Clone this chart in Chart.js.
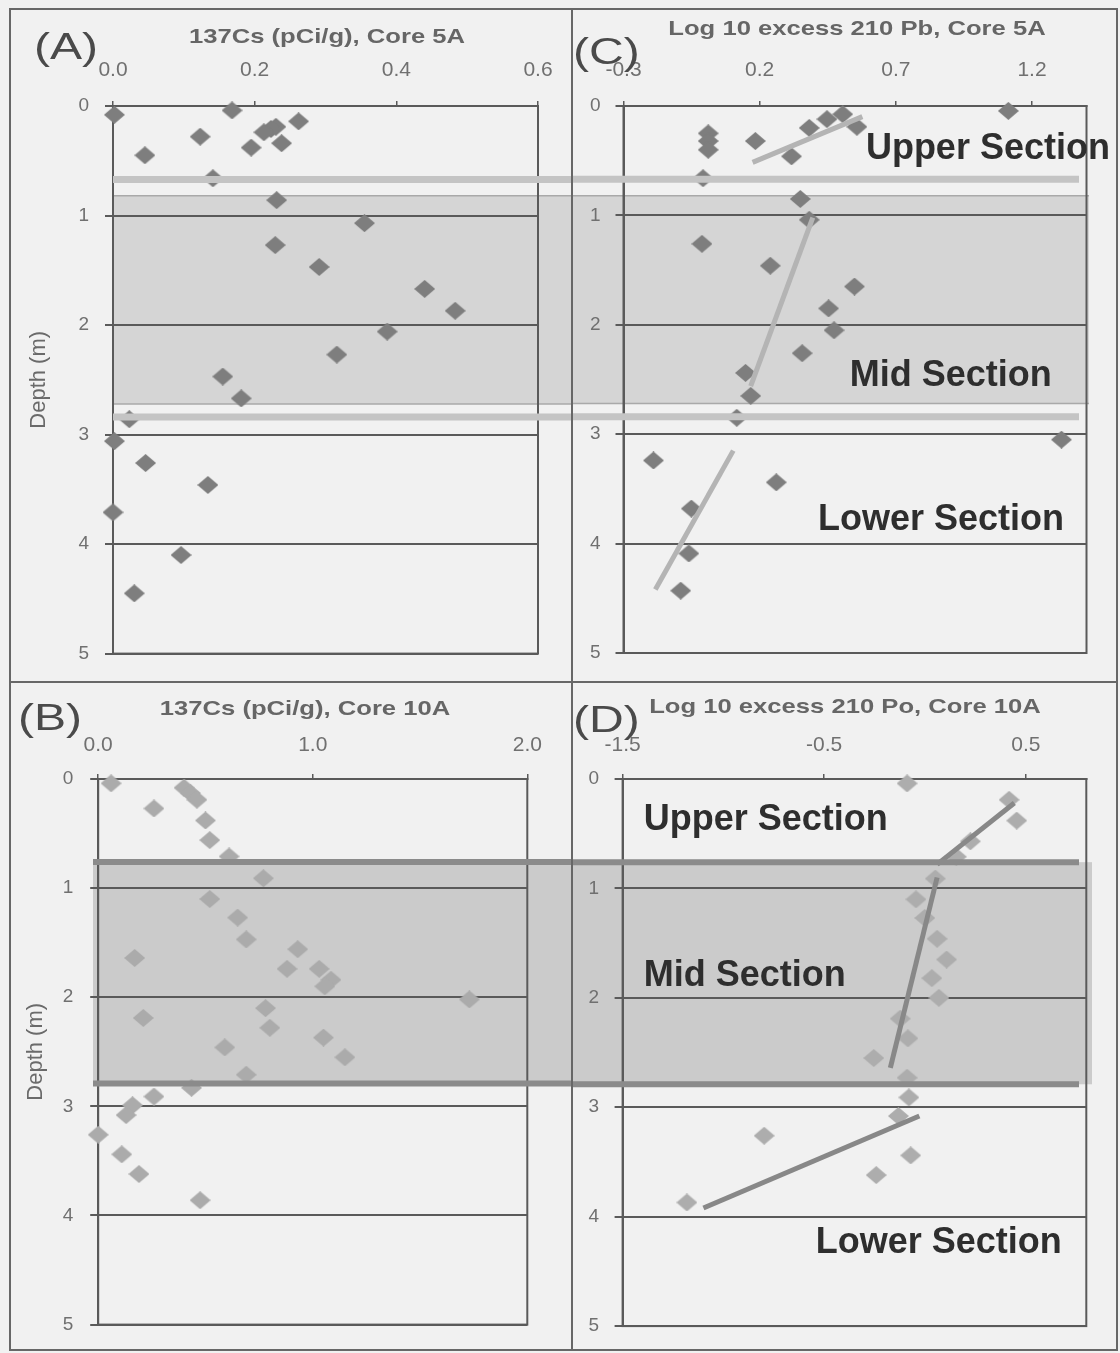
<!DOCTYPE html>
<html>
<head>
<meta charset="utf-8">
<script src="https://cdn.jsdelivr.net/npm/chart.js@4.4.1/dist/chart.umd.min.js"></script>
<style>
  html, body { margin: 0; padding: 0; background: #f1f1f1; }
  #fig { position: relative; width: 1120px; height: 1353px; overflow: hidden; }
  #fig canvas { position: absolute; }
  .rule { position: absolute; background: #676767; }
</style>
</head>
<body>
<div id="fig">
  <div class="rule" style="left:9px;top:8px;width:1109px;height:2px"></div>
  <div class="rule" style="left:9px;top:1349px;width:1109px;height:2px"></div>
  <div class="rule" style="left:9px;top:8px;width:2px;height:1343px"></div>
  <div class="rule" style="left:1116px;top:8px;width:2px;height:1343px"></div>
  <div class="rule" style="left:571px;top:8px;width:2px;height:1343px"></div>
  <div class="rule" style="left:9px;top:681px;width:1109px;height:2px"></div>

  <canvas id="cA" width="560" height="671" style="left:11px;top:10px"></canvas>
  <canvas id="cC" width="547" height="671" style="left:573px;top:10px"></canvas>
  <canvas id="cB" width="560" height="670" style="left:11px;top:683px"></canvas>
  <canvas id="cD" width="547" height="670" style="left:573px;top:683px"></canvas>
</div>
<script>
// Four depth profiles (cores 5A and 10A): 137Cs activity and log10 excess
// 210Pb / 210Po, depth increasing downward, with the mid-section band.

const depthTicks = [0, 1, 2, 3, 4, 5];

// (A) 137Cs (pCi/g), core 5A
const depthA = [0.04, 0.08, 0.14, 0.19, 0.21, 0.24, 0.28, 0.34, 0.38, 0.45, 0.66, 0.86, 1.07, 1.27,
                1.47, 1.67, 1.87, 2.06, 2.27, 2.47, 2.67, 2.86, 3.06, 3.26, 3.46, 3.71, 4.10, 4.45];
const cs5A   = [0.168, 0.002, 0.262, 0.230, 0.223, 0.213, 0.123, 0.238, 0.195, 0.045, 0.141, 0.231, 0.355, 0.229,
                0.291, 0.440, 0.483, 0.387, 0.316, 0.155, 0.181, 0.023, 0.002, 0.046, 0.134, 0.000, 0.096, 0.030];
const ticksA = [0, 0.2, 0.4, 0.6];

// (C) log10 excess 210Pb, core 5A
const depthC = [0.045, 0.075, 0.12, 0.19, 0.20, 0.25, 0.32, 0.32, 0.40, 0.46, 0.66, 0.85, 1.04, 1.26,
                1.46, 1.65, 1.85, 2.05, 2.26, 2.44, 2.65, 2.85, 3.05, 3.24, 3.44, 3.68, 4.09, 4.43];
const pb5A   = [1.113, 0.505, 0.447, 0.557, 0.382, 0.011, 0.011, 0.184, 0.011, 0.317, -0.008, 0.349, 0.382, -0.012,
                0.239, 0.548, 0.453, 0.473, 0.356, 0.148, 0.167, 0.116, 1.308, -0.190, 0.261, -0.051, -0.060, -0.090];
const ticksC = [-0.3, 0.2, 0.7, 1.2];
// fitted segments: [x0, depth0, x1, depth1]
const fitC = [[0.174, 0.515, 0.577, 0.097], [0.395, 1.02, 0.167, 2.56], [0.103, 3.15, -0.183, 4.42]];

// (B) 137Cs (pCi/g), core 10A
const depthB = [0.04, 0.08, 0.13, 0.19, 0.27, 0.38, 0.56, 0.71, 0.91, 1.10, 1.27, 1.47, 1.56, 1.64, 1.74, 1.74, 1.84,
                1.90, 2.02, 2.10, 2.19, 2.28, 2.37, 2.46, 2.55, 2.71, 2.83, 2.91, 2.99, 3.08, 3.26, 3.44, 3.62, 3.86];
const cs10A  = [0.06, 0.40, 0.43, 0.46, 0.26, 0.50, 0.52, 0.61, 0.77, 0.52, 0.65, 0.69, 0.93, 0.17, 0.88, 1.03, 1.085,
                1.056, 1.73, 0.78, 0.21, 0.80, 1.05, 0.59, 1.15, 0.69, 0.435, 0.26, 0.16, 0.13, 0.0, 0.11, 0.19, 0.475];
const ticksB = [0, 1, 2];

// (D) log10 excess 210Po, core 10A
const depthD = [0.04, 0.19, 0.38, 0.57, 0.71, 0.91, 1.10, 1.27, 1.46, 1.65, 1.82, 2.00, 2.19, 2.37, 2.55,
                2.73, 2.91, 3.08, 3.26, 3.44, 3.62, 3.87];
const po10A  = [-0.089, 0.417, 0.455, 0.225, 0.155, 0.051, -0.045, -0.001, 0.060, 0.107, 0.034, 0.069, -0.123, -0.085, -0.254,
                -0.089, -0.080, -0.132, -0.798, -0.071, -0.242, -1.181];
const ticksD = [-1.5, -0.5, 0.5];
const fitD = [[0.443, 0.22, 0.06, 0.78], [0.06, 0.90, -0.172, 2.64], [-0.028, 3.08, -1.099, 3.92]];

// section boundaries (m)
const band5A  = [0.82, 2.72];
const rules5A = [0.67, 2.84];
const band10A = [0.76, 2.79];

const FONT = '"Liberation Sans", Arial, sans-serif';
const AXIS = '#5a5a5a';
const TICK = '#707070';
Chart.defaults.font.family = FONT;

function diamond(fill) {
    const c = document.createElement('canvas');
    c.width = 21; c.height = 18;
    const g = c.getContext('2d');
    g.fillStyle = fill;
    g.beginPath();
    g.moveTo(10.5, 0); g.lineTo(21, 9); g.lineTo(10.5, 18); g.lineTo(0, 9);
    g.closePath(); g.fill();
    return c;
}

// text drawn a little wide, like the scanned original
function wideText(ctx, text, x, y, sx, align) {
    ctx.save();
    ctx.translate(x, y);
    ctx.scale(sx, 1);
    ctx.textAlign = align;
    ctx.textBaseline = 'alphabetic';
    ctx.fillText(text, 0, 0);
    ctx.restore();
}

const sections = {
    id: 'sections',
    beforeDraw(chart, _a, o) {
        const { ctx, chartArea: ca, scales: { y } } = chart;
        const x0 = o.bandX[0] === null ? ca.left : o.bandX[0];
        const x1 = o.bandX[1];
        const t = y.getPixelForValue(o.band[0]), b = y.getPixelForValue(o.band[1]);
        ctx.save();
        ctx.fillStyle = o.bandFill;
        ctx.fillRect(x0, t, x1 - x0, b - t);
        if (o.bandEdge) {
            ctx.strokeStyle = o.bandEdge;
            ctx.lineWidth = 1.5;
            ctx.beginPath();
            ctx.moveTo(x0, t); ctx.lineTo(x1, t);
            ctx.moveTo(x0, b); ctx.lineTo(x1, b);
            ctx.stroke();
        }
        ctx.restore();
    },
    beforeDatasetsDraw(chart) {
        const { ctx, chartArea: ca } = chart;
        ctx.save();
        ctx.strokeStyle = AXIS;
        ctx.lineWidth = 2;
        ctx.strokeRect(ca.left, ca.top, ca.right - ca.left, ca.bottom - ca.top);
        ctx.restore();
    },
    afterDatasetsDraw(chart, _a, o) {
        const { ctx, chartArea: ca, scales: { y } } = chart;
        const x0 = o.ruleX[0] === null ? ca.left : o.ruleX[0];
        ctx.save();
        ctx.strokeStyle = o.ruleColor;
        ctx.lineWidth = o.ruleWidth;
        ctx.beginPath();
        o.rules.forEach(d => {
            const py = y.getPixelForValue(d);
            ctx.moveTo(x0, py); ctx.lineTo(o.ruleX[1], py);
        });
        ctx.stroke();
        ctx.restore();
    },
    afterDraw(chart, _a, o) {
        const { ctx, scales: { x, y } } = chart;
        ctx.save();
        ctx.fillStyle = '#4a4a4a';
        ctx.font = '37px ' + FONT;
        wideText(ctx, o.letter[0], o.letter[1], o.letter[2], 1.3, 'left');
        ctx.fillStyle = '#666666';
        ctx.font = 'bold 21px ' + FONT;
        wideText(ctx, o.title[0], o.title[1], o.title[2], 1.22, 'center');
        ctx.fillStyle = '#2e2e2e';
        ctx.font = 'bold 36px ' + FONT;
        o.labels.forEach(l => {
            wideText(ctx, l[0], x.getPixelForValue(l[1]), y.getPixelForValue(l[2]), 1.0, 'left');
        });
        ctx.restore();
    }
};

function panel(id, p) {
    const points = {
        data: p.depth.map((d, i) => ({ x: p.values[i], y: d })),
        pointStyle: diamond(p.marker),
        pointRadius: 10,
        showLine: false,
        clip: false,
        order: 1
    };
    const fits = (p.fits || []).map(f => ({
        data: [{ x: f[0], y: f[1] }, { x: f[2], y: f[3] }],
        showLine: true,
        borderColor: p.fitColor,
        borderWidth: 5,
        pointRadius: 0,
        clip: false,
        order: 0
    }));

    new Chart(document.getElementById(id), {
        type: 'scatter',
        data: { datasets: [...fits, points] },
        options: {
            responsive: false,
            animation: false,
            events: [],
            layout: { padding: { left: 0, top: 0, right: p.padRight, bottom: p.padBottom } },
            plugins: {
                legend: { display: false },
                tooltip: { enabled: false },
                sections: p.decor
            },
            scales: {
                x: {
                    type: 'linear',
                    position: 'top',
                    min: p.xRange[0],
                    max: p.xRange[1],
                    afterBuildTicks: s => { s.ticks = p.xTicks.map(v => ({ value: v })); },
                    afterFit: s => { s.height = 96; },
                    grid: { drawOnChartArea: false, drawTicks: true, tickLength: 5, color: AXIS, lineWidth: 1.5 },
                    border: { display: true, color: AXIS, width: 2 },
                    ticks: {
                        padding: p.xPad, color: TICK, font: { size: 21 },
                        maxRotation: 0, autoSkip: false,
                        callback: v => Number(v).toFixed(1)
                    }
                },
                y: {
                    type: 'linear',
                    reverse: true,
                    min: 0,
                    max: 5,
                    afterBuildTicks: s => { s.ticks = depthTicks.map(v => ({ value: v })); },
                    afterFit: s => { s.width = p.yWidth; },
                    grid: { color: AXIS, lineWidth: 2, tickLength: 8 },
                    border: { display: true, color: AXIS, width: 2 },
                    ticks: { padding: p.yPad, color: TICK, font: { size: 19 }, callback: v => String(v) },
                    title: {
                        display: !!p.yTitlePad,
                        text: 'Depth (m)',
                        color: '#6a6a6a',
                        font: { size: 22 },
                        padding: { top: p.yTitlePad || 0, bottom: 0 }
                    }
                }
            }
        },
        plugins: [sections]
    });
}

panel('cA', {
    depth: depthA, values: cs5A, marker: '#7e7e7e',
    xRange: [0, 0.6], xTicks: ticksA, xPad: 18.4,
    yWidth: 102, yPad: 16, yTitlePad: 14.8, padRight: 32.5, padBottom: 24,
    decor: {
        band: band5A, bandX: [null, 560], bandFill: '#d5d5d5', bandEdge: '#a9a9a9',
        rules: rules5A, ruleX: [null, 560], ruleColor: '#c4c4c4', ruleWidth: 7,
        letter: ['(A)', 23, 49],
        title: ['137Cs (pCi/g), Core 5A', 316, 33],
        labels: []
    }
});

panel('cC', {
    depth: depthC, values: pb5A, marker: '#7e7e7e',
    fits: fitC, fitColor: '#b4b4b4',
    xRange: [-0.3, 1.4], xTicks: ticksC, xPad: 18.4,
    yWidth: 50.5, yPad: 15, padRight: 33.5, padBottom: 28,
    decor: {
        band: band5A, bandX: [0, 516], bandFill: '#d5d5d5', bandEdge: '#a9a9a9',
        rules: rules5A, ruleX: [0, 506], ruleColor: '#c4c4c4', ruleWidth: 7,
        letter: ['(C)', 0, 54],
        title: ['Log 10 excess 210 Pb, Core 5A', 284, 25],
        labels: [['Upper Section', 0.59, 0.487], ['Mid Section', 0.531, 2.56], ['Lower Section', 0.414, 3.876]]
    }
});

panel('cB', {
    depth: depthB, values: cs10A, marker: '#ababab',
    xRange: [0, 2], xTicks: ticksB, xPad: 16.4,
    yWidth: 87.2, yPad: 17, yTitlePad: 11.3, padRight: 43.7, padBottom: 15,
    decor: {
        band: band10A, bandX: [82, 560], bandFill: '#cbcbcb', bandEdge: null,
        rules: band10A, ruleX: [82, 560], ruleColor: '#8b8b8b', ruleWidth: 6,
        letter: ['(B)', 7, 47],
        title: ['137Cs (pCi/g), Core 10A', 294, 32],
        labels: []
    }
});

panel('cD', {
    depth: depthD, values: po10A, marker: '#adadad',
    fits: fitD, fitColor: '#888888',
    xRange: [-1.5, 0.8], xTicks: ticksD, xPad: 16.4,
    yWidth: 49.6, yPad: 15.5, padRight: 33.7, padBottom: 13,
    decor: {
        band: band10A, bandX: [0, 519], bandFill: '#cbcbcb', bandEdge: null,
        rules: band10A, ruleX: [0, 506], ruleColor: '#8b8b8b', ruleWidth: 6,
        letter: ['(D)', 0, 49],
        title: ['Log 10 excess 210 Po, Core 10A', 272, 30],
        labels: [['Upper Section', -1.395, 0.47], ['Mid Section', -1.395, 1.896], ['Lower Section', -0.542, 4.33]]
    }
});
</script>
</body>
</html>
